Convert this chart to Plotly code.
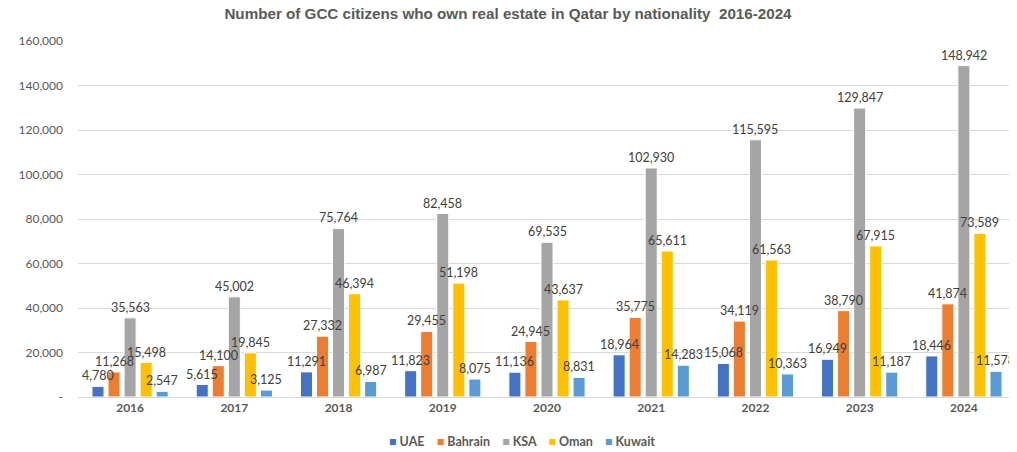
import plotly.graph_objects as go

years = ["2016", "2017", "2018", "2019", "2020", "2021", "2022", "2023", "2024"]
uae = [4780, 5615, 11291, 11823, 11136, 18964, 15068, 16949, 18446]
bahrain = [11268, 14100, 27332, 29455, 24945, 35775, 34119, 38790, 41874]
ksa = [35563, 45002, 75764, 82458, 69535, 102930, 115595, 129847, 148942]
oman = [15498, 19845, 46394, 51198, 43637, 65611, 61563, 67915, 73589]
kuwait = [2547, 3125, 6987, 8075, 8831, 14283, 10363, 11187, 11578]

series_names = ["UAE", "Bahrain", "KSA", "Oman", "Kuwait"]
series_values = [uae, bahrain, ksa, oman, kuwait]
colors = ["#4472C4", "#ED7D31", "#A5A5A5", "#FFC000", "#5B9BD5"]

y_tickvals = [0, 20000, 40000, 60000, 80000, 100000, 120000, 140000, 160000]
y_ticktext = ["-", "20,000", "40,000", "60,000", "80,000", "100,000", "120,000", "140,000", "160,000"]

# the page places the figure 8px in from the top-left corner; compensate
OFF = 8
W, H = 1017 - OFF, 452 - OFF
ML, MR, MT, MB = 78 - OFF, 1, 41 - OFF, 452 - 397
BARGAP, BARGROUPGAP = 0.23, 0.25
label_font = "Lato, Open Sans, sans-serif"
PW, PH = W - ML - MR, H - MT - MB

fig = go.Figure()
for name, vals, col in zip(series_names, series_values, colors):
    fig.add_trace(go.Bar(
        x=years, y=vals, name=name,
        marker=dict(color=col, line=dict(color="white", width=1)),
        showlegend=False,
    ))

# data labels as annotations so they sit above neighbouring bars
cat_px = PW / len(years)
slot_px = cat_px * (1 - BARGAP) / len(series_names)
annotations = []
for i, vals in enumerate(series_values):
    shift = (i - (len(series_names) - 1) / 2) * slot_px
    for j, v in enumerate(vals):
        annotations.append(dict(
            x=j, y=v, xref="x", yref="y", text=f"{v:,}", showarrow=False,
            xanchor="center", yanchor="bottom", xshift=shift, yshift=1,
            font=dict(family=label_font, size=12.5, color="#404040"),
        ))

# custom compact legend
sp = "&nbsp;" * 4
legend_text = sp.join(
    f'<span style="color:{c}">■</span> {n}' for n, c in zip(series_names, colors)
)
annotations.append(dict(
    x=(522 - OFF - ML) / PW, y=1 - (441 - OFF - MT) / PH,
    xref="paper", yref="paper", text=legend_text, showarrow=False,
    xanchor="center", yanchor="middle",
    font=dict(family=label_font, size=12.5, color="#595959", weight="bold"),
))

fig.update_layout(
    width=W, height=H,
    margin=dict(l=ML, r=MR, t=MT, b=MB, autoexpand=False),
    paper_bgcolor="white", plot_bgcolor="white",
    barmode="group", bargap=BARGAP, bargroupgap=BARGROUPGAP,
    title=dict(text="<b>Number of GCC citizens who own real estate in Qatar by nationality  2016-2024</b>",
               x=(508 - OFF) / W, xanchor="center", y=1.0, yanchor="top",
               yref="container", pad=dict(t=0, b=0),
               font=dict(family="Liberation Sans, Arial, sans-serif", size=15.2, color="#595959")),
    showlegend=False,
    annotations=annotations,
)
fig.update_xaxes(
    type="category", range=[-0.5, len(years) - 0.5],
    showgrid=False, showline=True, linecolor="#D9D9D9", linewidth=1,
    tickfont=dict(family=label_font, size=12, color="#595959", weight="bold"),
    ticks="", ticklen=0,
)
fig.update_yaxes(
    range=[0, 160000], tickvals=y_tickvals, ticktext=y_ticktext,
    showgrid=True, gridcolor="#D9D9D9", gridwidth=1, zeroline=False,
    tickfont=dict(family=label_font, size=12, color="#595959"),
    ticks="", ticklabelstandoff=14,
)

fig.write_html("out.html")
